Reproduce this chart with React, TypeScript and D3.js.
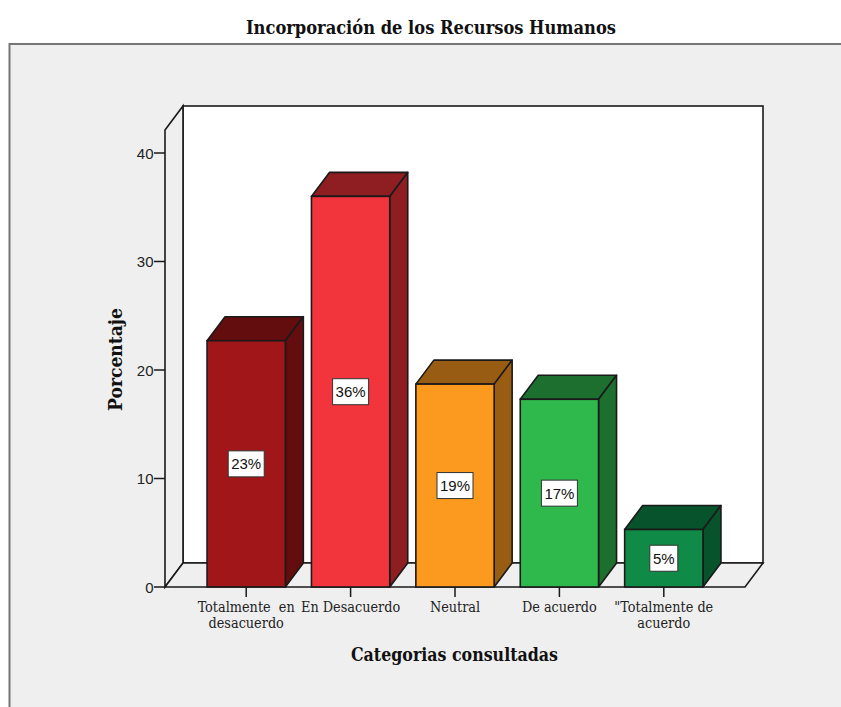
import React from "react";
import * as d3 from "d3";

const categories = ["Totalmente en desacuerdo", "En Desacuerdo", "Neutral", "De acuerdo", "\"Totalmente de acuerdo"];
const categoryLines = [["Totalmente  en", "desacuerdo"], ["En Desacuerdo"], ["Neutral"], ["De acuerdo"], ["\"Totalmente de", "acuerdo"]];
const values = [22.7, 36.0, 18.7, 17.3, 5.3];
const valueLabels = ["23%", "36%", "19%", "17%", "5%"];
const frontColors = ["#a11719", "#f2343c", "#fc9a1f", "#2fb84c", "#0f8a47"];
const sideColors = ["#640d0f", "#8e1e22", "#985c12", "#1c6f2e", "#07532b"];
const yTicks = [0, 10, 20, 30, 40];

const W = 841, H = 707;
const dx = 18, dy = -24;
const x0 = 165, x1 = 745;
const y = d3.scaleLinear().domain([0, 40]).range([587, 153]);
const x = d3.scaleBand<string>().domain(categories).range([194, 716]).paddingInner(0.25).paddingOuter(0.125);
const yBase = y(0), yTop = 130;
const line = d3.line();
const poly = (pts: [number, number][]) => line(pts) + "Z";

const stroke = "#1a1a1a";
const serif = "'DejaVu Serif', 'Liberation Serif', serif";
const sans = "'Liberation Sans', Arial, sans-serif";

export default function App() {
  return (
    <svg width={W} height={H} viewBox={`0 0 ${W} ${H}`} style={{ position: "absolute", left: 0, top: 0, background: "#fff" }}>
      <rect x={9.5} y={44} width={W + 10} height={H} fill="#efefef" stroke="#757575" strokeWidth={2} />
      <text x={431} y={34} textAnchor="middle" fontFamily={serif} fontWeight="bold" fontSize={19} textLength={370} lengthAdjust="spacingAndGlyphs" fill="#111">
        Incorporación de los Recursos Humanos
      </text>

      {/* back wall, side wall, floor */}
      <rect x={x0 + dx} y={yTop + dy} width={x1 - x0} height={yBase - yTop} fill="#fff" stroke={stroke} strokeWidth={1.6} />
      <path d={poly([[x0, yTop], [x0 + dx, yTop + dy], [x0 + dx, yBase + dy], [x0, yBase]])} fill="#efefef" stroke={stroke} strokeWidth={1.6} />
      <path d={poly([[x0, yBase], [x0 + dx, yBase + dy], [x1 + dx, yBase + dy], [x1, yBase]])} fill="#efefef" stroke={stroke} strokeWidth={1.6} />

      {/* y axis */}
      {yTicks.map((t) => (
        <g key={t}>
          <line x1={x0 - 11} x2={x0} y1={y(t)} y2={y(t)} stroke={stroke} strokeWidth={1.5} />
          <text x={x0 - 11.5} y={y(t) + 5.5} textAnchor="end" fontFamily={sans} fontSize={15} fill="#222">{t}</text>
        </g>
      ))}

      {/* bars */}
      {categories.map((c, i) => {
        const l = x(c)!, r = l + x.bandwidth(), t = y(values[i]);
        return (
          <g key={c}>
            <path d={poly([[l, t], [l + dx, t + dy], [r + dx, t + dy], [r, t]])} fill={sideColors[i]} stroke={stroke} strokeWidth={1.6} strokeLinejoin="round" />
            <path d={poly([[r, t], [r + dx, t + dy], [r + dx, yBase + dy], [r, yBase]])} fill={sideColors[i]} stroke={stroke} strokeWidth={1.6} strokeLinejoin="round" />
            <rect x={l} y={t} width={x.bandwidth()} height={yBase - t} fill={frontColors[i]} stroke={stroke} strokeWidth={1.6} />
          </g>
        );
      })}

      {/* x ticks and labels */}
      {categories.map((c, i) => {
        const cx = x(c)! + x.bandwidth() / 2;
        return (
          <g key={c}>
            <line x1={cx} x2={cx} y1={yBase} y2={yBase + 10} stroke={stroke} strokeWidth={1.5} />
            {categoryLines[i].map((s, j) => (
              <text key={j} x={cx} y={611.5 + j * 16} textAnchor="middle" fontFamily={serif} fontSize={14.3} style={{ fontStretch: "condensed" }} fill="#222" xmlSpace="preserve">{s}</text>
            ))}
          </g>
        );
      })}

      {/* value labels */}
      {categories.map((c, i) => {
        const cx = x(c)! + x.bandwidth() / 2, cy = (y(values[i]) + yBase) / 2;
        const w = valueLabels[i].length === 2 ? 28 : 36;
        return (
          <g key={c}>
            <rect x={cx - w / 2} y={cy - 13} width={w} height={26} fill="#fff" stroke="#333" strokeWidth={1} />
            <text x={cx} y={cy + 5.5} textAnchor="middle" fontFamily={sans} fontSize={15} fill="#111">{valueLabels[i]}</text>
          </g>
        );
      })}

      <text transform="translate(122,359.5) rotate(-90)" textAnchor="middle" fontFamily={serif} fontWeight="bold" fontSize={19} textLength={103} lengthAdjust="spacingAndGlyphs" fill="#111">Porcentaje</text>
      <text x={454.5} y={660.5} textAnchor="middle" fontFamily={serif} fontWeight="bold" fontSize={19} textLength={207} lengthAdjust="spacingAndGlyphs" fill="#111">Categorias consultadas</text>
    </svg>
  );
}
